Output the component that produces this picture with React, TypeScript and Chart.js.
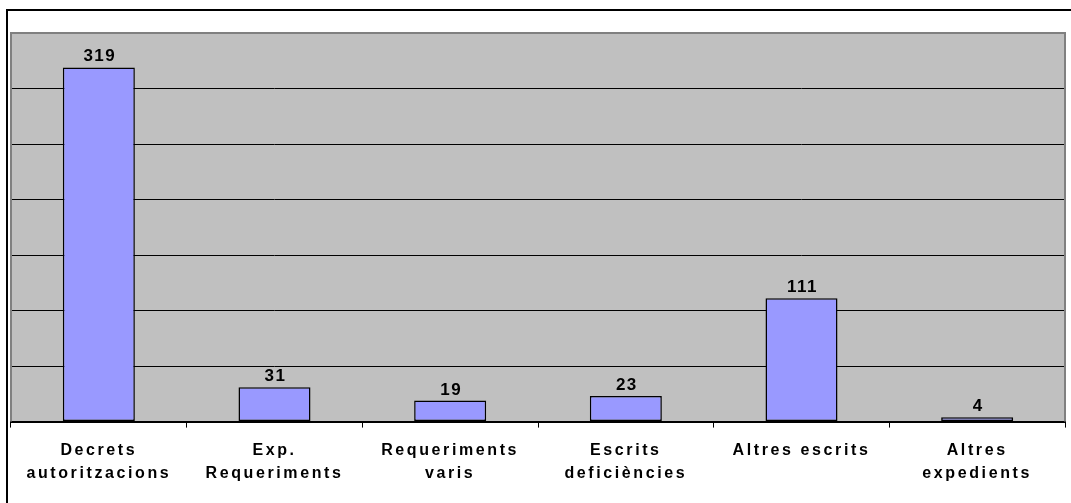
import React, { useEffect, useRef } from "react";
import { Chart, registerables } from "chart.js";

Chart.register(...registerables);

const categories: (string | string[])[] = [
  ["Decrets", "autoritzacions"],
  ["Exp.", "Requeriments"],
  ["Requeriments", "varis"],
  ["Escrits", "deficiències"],
  "Altres escrits",
  ["Altres", "expedients"],
];
const values: number[] = [319, 31, 19, 23, 111, 4];
const yMax = 350;
const yStep = 50;

const FONT = "'Liberation Sans', Arial, sans-serif";

const framePlugin = {
  id: "frame",
  beforeDraw(chart: any) {
    const ctx = chart.ctx;
    const { left, right, top, bottom } = chart.chartArea;
    ctx.save();
    ctx.fillStyle = "#ffffff";
    ctx.fillRect(0, 0, chart.width, chart.height);
    ctx.fillStyle = "#000000";
    ctx.fillRect(6, 9, 2, chart.height - 9);
    ctx.fillRect(6, 9, chart.width - 6, 2);
    ctx.fillStyle = "#c0c0c0";
    ctx.fillRect(left, top, right - left, bottom - top);
    ctx.restore();
    (ctx as any).letterSpacing = "2.6px";
  },
  beforeDatasetsDraw(chart: any) {
    const ctx = chart.ctx;
    const { left, right, top, bottom } = chart.chartArea;
    ctx.save();
    ctx.strokeStyle = "#808080";
    ctx.lineWidth = 2;
    ctx.beginPath();
    ctx.moveTo(left, bottom);
    ctx.lineTo(left, top);
    ctx.lineTo(right, top);
    ctx.lineTo(right, bottom);
    ctx.stroke();
    ctx.restore();
  },
  afterDatasetsDraw(chart: any) {
    const ctx = chart.ctx;
    const meta = chart.getDatasetMeta(0);
    ctx.save();
    (ctx as any).letterSpacing = "1.5px";
    ctx.font = `bold 17px ${FONT}`;
    ctx.fillStyle = "#000000";
    ctx.textAlign = "center";
    ctx.textBaseline = "alphabetic";
    meta.data.forEach((bar: any, i: number) => {
      ctx.fillText(String(values[i]), bar.x + 1, bar.y - 6);
    });
    ctx.restore();
  },
};

export default function App() {
  const ref = useRef<HTMLCanvasElement>(null);
  useEffect(() => {
    document.body.style.margin = "0";
    const chart = new Chart(ref.current as HTMLCanvasElement, {
      type: "bar",
      data: {
        labels: categories,
        datasets: [
          {
            data: values,
            backgroundColor: "#9999ff",
            borderColor: "#000000",
            borderWidth: 1.5,
            borderSkipped: false,
            barPercentage: 0.41,
            categoryPercentage: 1,
          },
        ],
      },
      options: {
        animation: false,
        responsive: false,
        layout: { padding: { left: 11, right: 6, top: 33, bottom: 7 } },
        plugins: { legend: { display: false }, tooltip: { enabled: false } },
        scales: {
          x: {
            offset: true,
            grid: {
              offset: true,
              drawOnChartArea: false,
              drawTicks: true,
              tickLength: 6,
              color: "#000000",
              lineWidth: 1,
            },
            border: { display: true, color: "#000000", width: 2 },
            ticks: {
              autoSkip: false,
              maxRotation: 0,
              minRotation: 0,
              padding: 11,
              color: "#000000",
              font: { family: FONT, size: 16, weight: "bold", lineHeight: 1.45 },
            },
          },
          y: {
            min: 0,
            max: yMax,
            ticks: { display: false, stepSize: yStep },
            grid: {
              drawTicks: false,
              color: (c: any) =>
                c.tick && (c.tick.value === yMax || c.tick.value === 0) ? "rgba(0,0,0,0)" : "#000000",
              lineWidth: 1,
            },
            border: { display: false },
          },
        },
      },
      plugins: [framePlugin],
    });
    return () => chart.destroy();
  }, []);
  return <canvas ref={ref} width={1071} height={503} style={{ display: "block" }} />;
}
